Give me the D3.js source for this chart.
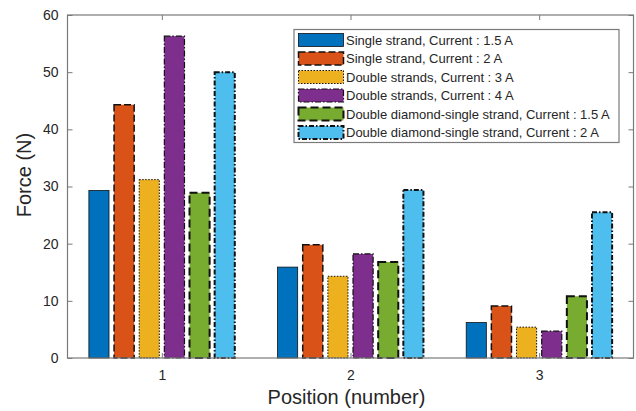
<!DOCTYPE html>
<html>
<head>
<meta charset="utf-8">
<script src="https://cdn.jsdelivr.net/npm/d3@7"></script>
<style>
  body { margin: 0; background: #fff; }
  text { font-family: "Liberation Sans", Arial, sans-serif; fill: #262626; }
</style>
</head>
<body>
<div id="chart"></div>
<script>
// data
var positions = [1, 2, 3];
var seriesNames = [
  "Single strand, Current : 1.5 A",
  "Single strand, Current : 2 A",
  "Double strands, Current : 3 A",
  "Double strands, Current : 4 A",
  "Double diamond-single strand, Current : 1.5 A",
  "Double diamond-single strand, Current : 2 A"
];
var singleA15 = [29.3, 15.9, 6.2];
var singleA2 = [44.3, 19.8, 9.1];
var doubleA3 = [31.2, 14.3, 5.4];
var doubleA4 = [56.3, 18.2, 4.7];
var diamondA15 = [28.9, 16.8, 10.8];
var diamondA2 = [50.0, 29.4, 25.5];
var yTicks = [0, 10, 20, 30, 40, 50, 60];

var seriesValues = [singleA15, singleA2, doubleA3, doubleA4, diamondA15, diamondA2];
var colors = ["#0072BD", "#D95319", "#EDB120", "#7E2F8E", "#77AC30", "#4DBEEE"];
// edge styles (matlab-ish LineStyle per series)
var edgeDash = ["none", "7,3", "1.5,1.5", "6,2,1.5,2", "8,4", "5,2,1.5,2"];
var edgeWidth = [0.8, 1.5, 1, 1.2, 2, 2];

var width = 636, height = 411;
// note: "top" is taken by window.top, so use plot* names
var plotL = 67.5, plotR = 633.5, plotT = 15, plotB = 358;

var svg = d3.select("#chart").append("svg")
  .attr("width", width)
  .attr("height", height);

var x = d3.scaleLinear().domain([0.5, 3.5]).range([plotL, plotR]);
var y = d3.scaleLinear().domain([0, 60]).range([plotB, plotT]);

// grouped bars, same geometry as matlab bar(): group width 0.8
var nS = seriesValues.length;
var step = 0.8 / nS;
var barW = step * 0.8;

seriesValues.forEach(function(vals, i) {
  svg.append("g").selectAll("rect")
    .data(vals)
    .enter()
    .append("rect")
      .attr("x", function(d, j) { return x(positions[j] + (i - (nS - 1) / 2) * step - barW / 2); })
      .attr("width", x(barW) - x(0))
      .attr("y", function(d) { return y(d); })
      .attr("height", function(d) { return y(0) - y(d); })
      .style("fill", colors[i])
      .style("stroke", "#111")
      .style("stroke-width", edgeWidth[i])
      .style("stroke-dasharray", edgeDash[i]);
});

// axes box
var axisColor = "#7a7a7a";
svg.append("rect")
  .attr("x", plotL).attr("y", plotT)
  .attr("width", plotR - plotL).attr("height", plotB - plotT)
  .style("fill", "none").style("stroke", axisColor).style("stroke-width", 1.2);

var tickLen = 5;
var yAxisL = d3.axisLeft(y).tickValues(yTicks).tickSize(-tickLen).tickPadding(9);
var gy = svg.append("g").attr("transform", "translate(" + plotL + ",0)").call(yAxisL);
gy.select(".domain").remove();
gy.selectAll("line").attr("stroke", axisColor);
gy.selectAll("text").style("font-size", "14px").attr("font-family", null).attr("fill", "#262626");

var yAxisR = d3.axisRight(y).tickValues(yTicks).tickSize(-tickLen).tickFormat("");
var gyr = svg.append("g").attr("transform", "translate(" + plotR + ",0)").call(yAxisR);
gyr.select(".domain").remove();
gyr.selectAll("line").attr("stroke", axisColor);

var xAxisB = d3.axisBottom(x).tickValues(positions).tickSize(-tickLen).tickPadding(12).tickFormat(d3.format("d"));
var gx = svg.append("g").attr("transform", "translate(0," + plotB + ")").call(xAxisB);
gx.select(".domain").remove();
gx.selectAll("line").attr("stroke", axisColor);
gx.selectAll("text").style("font-size", "14px").attr("font-family", null).attr("fill", "#262626");

var xAxisT = d3.axisTop(x).tickValues(positions).tickSize(-tickLen).tickFormat("");
var gxt = svg.append("g").attr("transform", "translate(0," + plotT + ")").call(xAxisT);
gxt.select(".domain").remove();
gxt.selectAll("line").attr("stroke", axisColor);

// axis titles
svg.append("text")
  .attr("x", (plotL + plotR) / 2 - 4)
  .attr("y", 404)
  .attr("text-anchor", "middle")
  .style("font-size", "20px")
  .text("Position (number)");

svg.append("text")
  .attr("transform", "translate(31," + 175 + ") rotate(-90)")
  .attr("text-anchor", "middle")
  .style("font-size", "20px")
  .text("Force (N)");

// legend
var lg = svg.append("g");
lg.append("rect")
  .attr("x", 294).attr("y", 29.5)
  .attr("width", 325).attr("height", 113)
  .style("fill", "#fff").style("stroke", axisColor).style("stroke-width", 1.2);

var rowH = 18.5;
seriesNames.forEach(function(name, i) {
  var cy = 40 + i * rowH;
  lg.append("rect")
    .attr("x", 298.5).attr("y", cy - 6.5)
    .attr("width", 45).attr("height", 13)
    .style("fill", colors[i])
    .style("stroke", "#111")
    .style("stroke-width", edgeWidth[i])
    .style("stroke-dasharray", edgeDash[i]);
  lg.append("text")
    .attr("x", 346).attr("y", cy + 4.5)
    .style("font-size", "13px")
    .text(name);
});
</script>
</body>
</html>
